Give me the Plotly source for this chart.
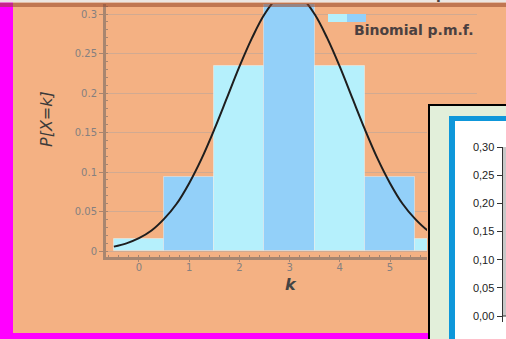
import plotly.graph_objects as go

W, H = 506, 339

# ---- data ----
k_values = [0, 1, 2, 3, 4, 5, 6]
pmf_values = [0.0156, 0.0938, 0.2344, 0.3125, 0.2344, 0.0938, 0.0156]
curve_x = [-0.5, -0.25, 0, 0.25, 0.5, 0.75, 1, 1.25, 1.5, 1.75, 2, 2.25, 2.5, 2.75, 3,
           3.25, 3.5, 3.75, 4, 4.25, 4.5, 4.75, 5, 5.25, 5.5, 5.75, 6, 6.25, 6.5]
curve_y = [0.0055, 0.0097, 0.0162, 0.0259, 0.0406, 0.0598, 0.0859, 0.1173, 0.1539, 0.1935,
           0.2334, 0.2695, 0.2997, 0.3198, 0.3257, 0.3198, 0.2997, 0.2695, 0.2334, 0.1935,
           0.1539, 0.1173, 0.0859, 0.0598, 0.0406, 0.0259, 0.0162, 0.0097, 0.0055]
inset_tick_vals = [0.0, 0.05, 0.10, 0.15, 0.20, 0.25, 0.30]
inset_tick_text = ["0,00", "0,05", "0,10", "0,15", "0,20", "0,25", "0,30"]

ORANGE = "#F4B183"
CYAN = "#B5F0FC"
BLUE = "#93D0F9"
MAGENTA = "#FF00FF"
AXIS = "#A88670"


def px(x):
    return x / W


def py(y):
    return 1 - y / H


bar_colors = [CYAN if i % 2 == 0 else BLUE for i in range(len(k_values))]

fig = go.Figure()
fig.add_trace(go.Bar(
    x=k_values, y=pmf_values, width=1,
    marker=dict(color=bar_colors, line=dict(color="rgba(255,255,255,0.35)", width=1)),
    showlegend=False, hoverinfo="skip"))
fig.add_trace(go.Scatter(
    x=curve_x, y=curve_y, mode="lines",
    line=dict(color="#1E1E1E", width=2, shape="spline"),
    showlegend=False, hoverinfo="skip"))
# empty trace to create inset subplot
fig.add_trace(go.Scatter(x=[], y=[], xaxis="x2", yaxis="y2", showlegend=False))

# inset y mapping helpers (pixel -> data)
IY0, IY30 = 316, 147
iscale = (IY0 - IY30) / 0.30


def iy(y):
    return (IY0 - y) / iscale


IX0, IX1 = 427, 506


def ix(x):
    return (x - IX0) / (IX1 - IX0)


shapes = []
# inset (drawn in inset subplot layer, above main traces)
shapes.append(dict(type="rect", xref="x2", yref="y2", layer="below",
                   x0=ix(429), x1=ix(520), y0=iy(105), y1=iy(360),
                   fillcolor="#E2EFDA", line=dict(color="#000000", width=2)))
shapes.append(dict(type="rect", xref="x2", yref="y2", layer="below",
                   x0=ix(449), x1=ix(520), y0=iy(116), y1=iy(360),
                   fillcolor="#0E97DA", line=dict(width=0)))
shapes.append(dict(type="rect", xref="x2", yref="y2", layer="below",
                   x0=ix(455), x1=ix(520), y0=iy(121), y1=iy(360),
                   fillcolor="#FFFFFF", line=dict(width=0)))
shapes.append(dict(type="rect", xref="x2", yref="y2", layer="below",
                   x0=ix(502.5), x1=ix(520), y0=0.30, y1=0.0,
                   fillcolor="#C8C8C8", line=dict(width=0)))
shapes.append(dict(type="line", xref="x2", yref="y2", layer="below",
                   x0=ix(502.5), x1=ix(502.5), y0=0.30, y1=iy(322),
                   line=dict(color="#333333", width=1)))
shapes.append(dict(type="line", xref="x2", yref="y2", layer="below",
                   x0=ix(502.5), x1=ix(520), y0=0.0, y1=0.0,
                   line=dict(color="#333333", width=1)))

# frame decorations
shapes.append(dict(type="rect", xref="paper", yref="paper", layer="above",
                   x0=0, x1=px(13), y0=0, y1=1, fillcolor=MAGENTA, line=dict(width=0)))
shapes.append(dict(type="rect", xref="paper", yref="paper", layer="above",
                   x0=0, x1=px(428), y0=0, y1=py(333), fillcolor=MAGENTA, line=dict(width=0)))
shapes.append(dict(type="rect", xref="paper", yref="paper", layer="above",
                   x0=0, x1=1, y0=py(7), y1=py(2.5), fillcolor="rgba(150,70,40,0.55)",
                   line=dict(width=0)))
shapes.append(dict(type="rect", xref="paper", yref="paper", layer="above",
                   x0=0, x1=1, y0=py(2.5), y1=1, fillcolor="#ECE6E2", line=dict(width=0)))
# legend swatches
shapes.append(dict(type="rect", xref="paper", yref="paper", layer="above",
                   x0=px(328), x1=px(347), y0=py(22), y1=py(14), fillcolor=CYAN,
                   line=dict(width=0)))
shapes.append(dict(type="rect", xref="paper", yref="paper", layer="above",
                   x0=px(347), x1=px(366), y0=py(22), y1=py(14), fillcolor=BLUE,
                   line=dict(width=0)))

annotations = [
    dict(text="Binomial p.m.f.", xref="paper", yref="paper", x=px(352), y=py(30),
         xanchor="left", yanchor="middle", showarrow=False,
         font=dict(family="DejaVu Sans", size=14, color="#4A4040", weight="bold")),
    dict(text="Normal p.d.f.", xref="paper", yref="paper", x=px(372), y=py(-6),
         xanchor="left", yanchor="middle", showarrow=False,
         font=dict(family="DejaVu Sans", size=14, color="#4A4040", weight="bold")),
    dict(text="<i>P[X=k]</i>", xref="paper", yref="paper", x=px(47), y=py(119),
         xanchor="center", yanchor="middle", showarrow=False, textangle=-90,
         font=dict(family="DejaVu Sans", size=16, color="#3A3A3A")),
    dict(text="<b><i>k</i></b>", xref="paper", yref="paper", x=px(291), y=py(284),
         xanchor="center", yanchor="middle", showarrow=False,
         font=dict(family="DejaVu Sans", size=16, color="#444444")),
]

tickfont = dict(family="DejaVu Sans", size=10, color="#858080")

fig.update_layout(
    width=W, height=H, margin=dict(l=0, r=0, t=0, b=0),
    paper_bgcolor=ORANGE, plot_bgcolor=ORANGE,
    bargap=0, showlegend=False,
    shapes=shapes, annotations=annotations,
    xaxis=dict(domain=[px(106), px(477)], range=[-0.657, 6.733], anchor="y",
               tickmode="linear", tick0=0, dtick=1, ticks="outside", ticklen=2,
               tickcolor=AXIS, showline=True, linecolor=AXIS, linewidth=3,
               showgrid=False, zeroline=False, tickfont=tickfont, ticklabelstandoff=-3,
               minor=dict(ticks="inside", ticklen=2, dtick=0.2, tickcolor=AXIS)),
    yaxis=dict(domain=[py(257), py(4)], range=[-0.0076, 0.3127], anchor="x",
               tickmode="linear", tick0=0, dtick=0.05, ticks="outside", ticklen=4,
               tickcolor=AXIS, showline=True, linecolor=AXIS, linewidth=3,
               showgrid=True, gridcolor="rgba(185,165,155,0.6)", gridwidth=1,
               zeroline=False, tickfont=tickfont,
               minor=dict(ticks="inside", ticklen=2, dtick=0.01, tickcolor=AXIS)),
    xaxis2=dict(domain=[px(IX0), 1], range=[0, 1], anchor="y2", visible=False,
                fixedrange=True),
    yaxis2=dict(domain=[0, py(103)], range=[iy(339), iy(103)], anchor="free",
                position=px(502.5), tickvals=inset_tick_vals, ticktext=inset_tick_text,
                ticks="outside", ticklen=6, tickcolor="#333333", showline=False,
                showgrid=False, zeroline=False,
                tickfont=dict(family="Liberation Sans", size=11, color="#222222")),
)

fig.write_html("out.html", config={"displayModeBar": False},
               post_script="document.body.style.margin='0';document.body.style.overflow='hidden';")
